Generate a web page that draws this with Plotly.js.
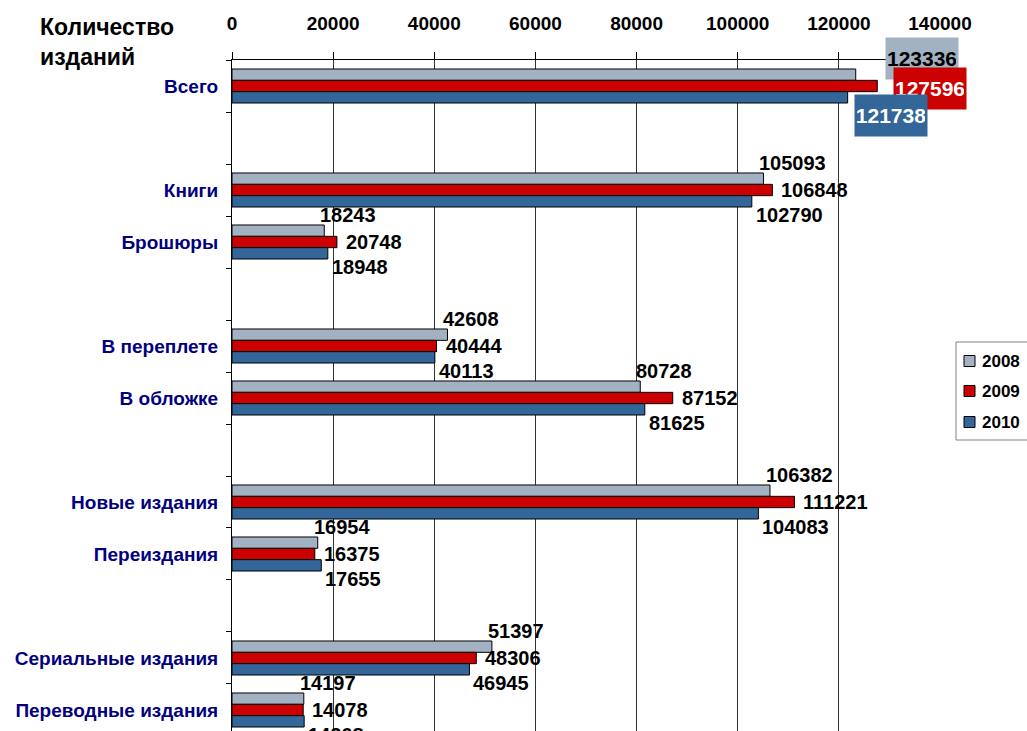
<!DOCTYPE html>
<html><head><meta charset="utf-8">
<script src="https://cdn.plot.ly/plotly-3.0.1.min.js"></script>
<style>html,body{margin:0;padding:0;background:#fff}#chart{width:1027px;height:731px}</style>
</head><body><div id="chart"></div>
<script>
// slots on the y axis (blank strings = empty gaps)
const slots = ["Всего", "", "Книги", "Брошюры", "", "В переплете", "В обложке", "", "Новые издания", "Переиздания", "", "Сериальные издания", "Переводные издания"];
const categories = ["Всего", "Книги", "Брошюры", "В переплете", "В обложке", "Новые издания", "Переиздания", "Сериальные издания", "Переводные издания"];
const years = ["2008", "2009", "2010"];
const values2008 = [123336, 105093, 18243, 42608, 80728, 106382, 16954, 51397, 14197];
const values2009 = [127596, 106848, 20748, 40444, 87152, 111221, 16375, 48306, 14078];
const values2010 = [121738, 102790, 18948, 40113, 81625, 104083, 17655, 46945, 14268];
const xTicks = [0, 20000, 40000, 60000, 80000, 100000, 120000, 140000];
const titleText = "Количество<br>изданий";

const colors = ["#a3b2c2", "#cc0000", "#336699"];
const series = [values2008, values2009, values2010];
const FONT = "Liberation Sans, Arial, sans-serif";

// plot area in pixels (for paper coordinates)
const PL = 232, PR = 940, PT = 60, PB = 731;
const px = x => (x - PL) / (PR - PL);
const py = y => (PB - y) / (PB - PT);

const yPos = categories.map(c => slots.indexOf(c));

const traces = series.map((vals, k) => ({
  type: "bar", orientation: "h", name: years[k],
  x: vals, y: yPos,
  marker: {color: colors[k], line: {color: "#000", width: 1}},
  hoverinfo: "skip", showlegend: false
}));

const annotations = [];
const shapes = [];
// normal data labels (yshift: positive = up)
const yShift = [27, 0, -25], xShift = [-6, 7, 2];
series.forEach((vals, k) => {
  vals.forEach((v, i) => {
    if (i === 0) return;
    annotations.push({
      x: v, y: yPos[i], xref: "x", yref: "y", text: String(v), showarrow: false,
      xanchor: "left", yanchor: "middle", xshift: xShift[k], yshift: yShift[k],
      font: {family: FONT, size: 20, color: "#000", weight: "bold"}
    });
  });
});
// boxed labels for the first category
const boxX = [66, 53, 43], boxY = [28, -2, -29];
const boxText = ["#000", "#fff", "#fff"];
series.forEach((vals, k) => {
  annotations.push({
    x: vals[0], y: yPos[0], xref: "x", yref: "y", text: String(vals[0]), showarrow: false,
    xanchor: "center", yanchor: "middle", xshift: boxX[k], yshift: boxY[k],
    bgcolor: colors[k], borderpad: 2, width: 68, height: 37,
    font: {family: FONT, size: 21, color: boxText[k], weight: "bold"}
  });
});
// chart title (top-left)
annotations.push({
  text: titleText, xref: "paper", yref: "paper", x: px(38), y: py(12),
  xanchor: "left", yanchor: "top", align: "left", showarrow: false,
  font: {family: FONT, size: 23, color: "#000", weight: "bold"}
});
// legend (drawn box, swatches and labels)
shapes.push({type: "rect", xref: "paper", yref: "paper", x0: px(956), x1: px(1080), y0: py(440), y1: py(342),
             line: {color: "#808080", width: 1}, fillcolor: "#fff", layer: "above"});
const legendY = [361, 391, 422];
years.forEach((yr, k) => {
  shapes.push({type: "rect", xref: "paper", yref: "paper", x0: px(964), x1: px(975),
               y0: py(legendY[k] + 5.5), y1: py(legendY[k] - 5.5),
               line: {color: "#000", width: 1}, fillcolor: colors[k], layer: "above"});
  annotations.push({text: yr, xref: "paper", yref: "paper", x: px(980), y: py(legendY[k]),
                    xanchor: "left", yanchor: "middle", showarrow: false,
                    font: {family: FONT, size: 17, color: "#000", weight: "bold"}});
});

const layout = {
  width: 1027, height: 731,
  margin: {l: PL, r: 1027 - PR, t: PT, b: 0, pad: 0, autoexpand: false},
  paper_bgcolor: "#fff", plot_bgcolor: "#fff",
  barmode: "group", bargap: 0.346, bargroupgap: 0,
  showlegend: false,
  xaxis: {
    side: "top", range: [0, 140000], tickvals: xTicks, ticktext: xTicks.map(String),
    showgrid: true, gridcolor: "#333", gridwidth: 1, zeroline: false,
    showline: true, linecolor: "#000", linewidth: 1,
    ticks: "outside", ticklen: 7, tickcolor: "#000", ticklabelstandoff: 14,
    tickfont: {family: FONT, size: 19, color: "#000", weight: "bold"}, fixedrange: true,
    automargin: false
  },
  yaxis: {
    range: [12.404, -0.5], tickvals: yPos, ticktext: categories,
    ticks: "", showgrid: false, zeroline: false,
    showline: true, linecolor: "#000", linewidth: 1, ticklabelstandoff: 9,
    minor: {tick0: 0.5, dtick: 1, ticks: "outside", ticklen: 5, tickcolor: "#000", showgrid: false},
    tickfont: {family: FONT, size: 19, color: "#000080", weight: "bold"}, fixedrange: true,
    automargin: false
  },
  shapes: shapes,
  annotations: annotations
};

Plotly.newPlot("chart", traces, layout, {displayModeBar: false, staticPlot: true});
</script></body></html>
